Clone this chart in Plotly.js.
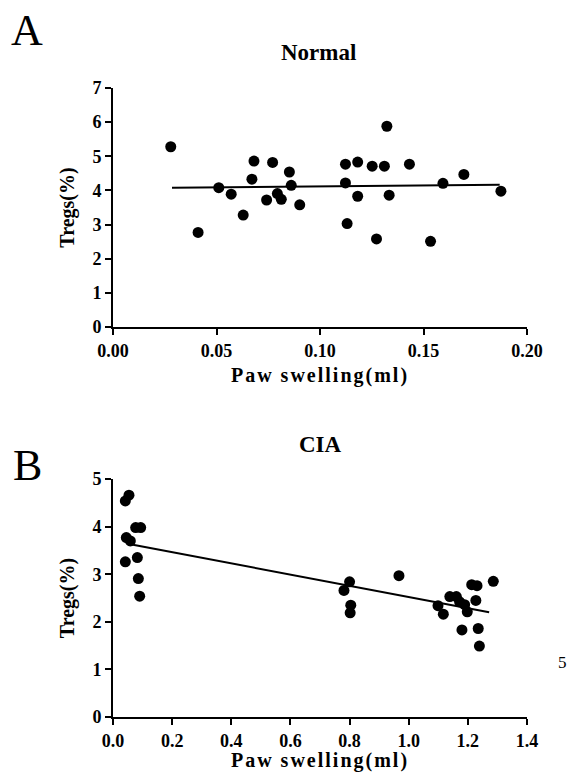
<!DOCTYPE html>
<html>
<head>
<meta charset="utf-8">
<script src="https://cdn.plot.ly/plotly-3.0.1.min.js"></script>
<style>
  html, body { margin: 0; padding: 0; background: #fff; }
  #chart { width: 569px; height: 772px; }
  .xtitle, .x2title { letter-spacing: 2px; }
</style>
</head>
<body>
<div id="chart"></div>
<script>
// Panel A: Normal
const normalSwelling = [0.0279, 0.0411, 0.0511, 0.0571, 0.0629, 0.0671, 0.0681, 0.0742, 0.0771, 0.0794,
  0.0813, 0.0852, 0.0861, 0.0902, 0.1123, 0.1123, 0.1131, 0.1182, 0.1182, 0.1252,
  0.1273, 0.1311, 0.1323, 0.1334, 0.1432, 0.1534, 0.1594, 0.1695, 0.1874];
const normalTregs = [5.28, 2.77, 4.08, 3.89, 3.28, 4.33, 4.86, 3.72, 4.82, 3.91,
  3.74, 4.54, 4.15, 3.58, 4.77, 4.22, 3.03, 4.83, 3.83, 4.71,
  2.58, 4.71, 5.88, 3.86, 4.77, 2.51, 4.21, 4.47, 3.98];
const normalFitX = [0.0285, 0.1868];
const normalFitY = [4.08, 4.17];

// Panel B: CIA
const ciaSwelling = [0.0417, 0.054, 0.045, 0.0586, 0.0417, 0.0767, 0.0936, 0.0823, 0.0857, 0.0902,
  0.781, 0.800, 0.804, 0.802, 0.967, 1.099, 1.117, 1.139, 1.161, 1.172,
  1.189, 1.198, 1.180, 1.213, 1.231, 1.227, 1.235, 1.239, 1.286];
const ciaTregs = [4.54, 4.66, 3.77, 3.70, 3.26, 3.98, 3.98, 3.35, 2.91, 2.54,
  2.66, 2.84, 2.35, 2.19, 2.97, 2.34, 2.16, 2.53, 2.53, 2.42,
  2.36, 2.21, 1.83, 2.78, 2.76, 2.45, 1.86, 1.49, 2.85];
const ciaFitX = [0.0586, 1.272];
const ciaFitY = [3.63, 2.20];

const titleNormal = 'Normal';
const titleCIA = 'CIA';
const xTitle = 'Paw swelling(ml)';
const yTitle = 'Tregs(%)';

const serif = 'Liberation Serif, Times New Roman, serif';
const marker = { color: '#000', size: 11, symbol: 'circle' };
const fitLine = { color: '#000', width: 2 };

const traces = [
  { x: normalSwelling, y: normalTregs, mode: 'markers', type: 'scatter', marker: marker, xaxis: 'x', yaxis: 'y', hoverinfo: 'x+y' },
  { x: normalFitX, y: normalFitY, mode: 'lines', type: 'scatter', line: fitLine, xaxis: 'x', yaxis: 'y' },
  { x: ciaSwelling, y: ciaTregs, mode: 'markers', type: 'scatter', marker: marker, xaxis: 'x2', yaxis: 'y2' },
  { x: ciaFitX, y: ciaFitY, mode: 'lines', type: 'scatter', line: fitLine, xaxis: 'x2', yaxis: 'y2' }
];

const tickFont = { family: serif, size: 18, color: '#000', weight: 'bold' };
const axTitleFont = { family: serif, size: 20, color: '#000', weight: 'bold' };

function xAxis(range, dtick, fmt, anchor) {
  return {
    domain: [0.1986, 0.9262], range: range, anchor: anchor,
    tick0: 0, dtick: dtick, tickformat: fmt,
    showline: true, linecolor: '#000', linewidth: 2,
    ticks: 'outside', ticklen: 6, tickwidth: 2, tickcolor: '#000',
    showgrid: false, zeroline: false, tickfont: tickFont,
    title: { text: xTitle, font: axTitleFont, standoff: 8 },
    fixedrange: true
  };
}
function yAxis(domain, range, anchor) {
  return {
    domain: domain, range: range, anchor: anchor,
    tick0: 0, dtick: 1,
    showline: true, linecolor: '#000', linewidth: 2,
    ticks: 'outside', ticklen: 6, tickwidth: 2, tickcolor: '#000',
    showgrid: false, zeroline: false, tickfont: tickFont,
    title: { text: yTitle, font: axTitleFont, standoff: 12 },
    fixedrange: true
  };
}

const layout = {
  width: 569, height: 772,
  margin: { l: 0, r: 0, t: 0, b: 0 },
  paper_bgcolor: '#fff', plot_bgcolor: '#fff',
  showlegend: false,
  xaxis: xAxis([0, 0.2], 0.05, '.2f', 'y'),
  yaxis: yAxis([0.5764, 0.886], [0, 7], 'x'),
  xaxis2: xAxis([0, 1.4], 0.2, '.1f', 'y2'),
  yaxis2: yAxis([0.0712, 0.3795], [0, 5], 'x2'),
  annotations: [
    { text: 'A', x: 27 / 569, y: 1 - 30 / 772, xref: 'paper', yref: 'paper', showarrow: false,
      xanchor: 'center', yanchor: 'middle', font: { family: serif, size: 44, color: '#000' } },
    { text: 'B', x: 27 / 569, y: 1 - 465 / 772, xref: 'paper', yref: 'paper', showarrow: false,
      xanchor: 'center', yanchor: 'middle', font: { family: serif, size: 44, color: '#000' } },
    { text: titleNormal, x: 318 / 569, y: 1 - 52 / 772, xref: 'paper', yref: 'paper', showarrow: false,
      xanchor: 'center', yanchor: 'middle', font: { family: serif, size: 23, color: '#000', weight: 'bold' } },
    { text: titleCIA, x: 320 / 569, y: 1 - 444 / 772, xref: 'paper', yref: 'paper', showarrow: false,
      xanchor: 'center', yanchor: 'middle', font: { family: serif, size: 23, color: '#000', weight: 'bold' } },
    { text: '5', x: 562 / 569, y: 1 - 662 / 772, xref: 'paper', yref: 'paper', showarrow: false,
      xanchor: 'center', yanchor: 'middle', font: { family: serif, size: 17, color: '#000' } }
  ]
};

Plotly.newPlot('chart', traces, layout, { staticPlot: true, displayModeBar: false });
</script>
</body>
</html>
